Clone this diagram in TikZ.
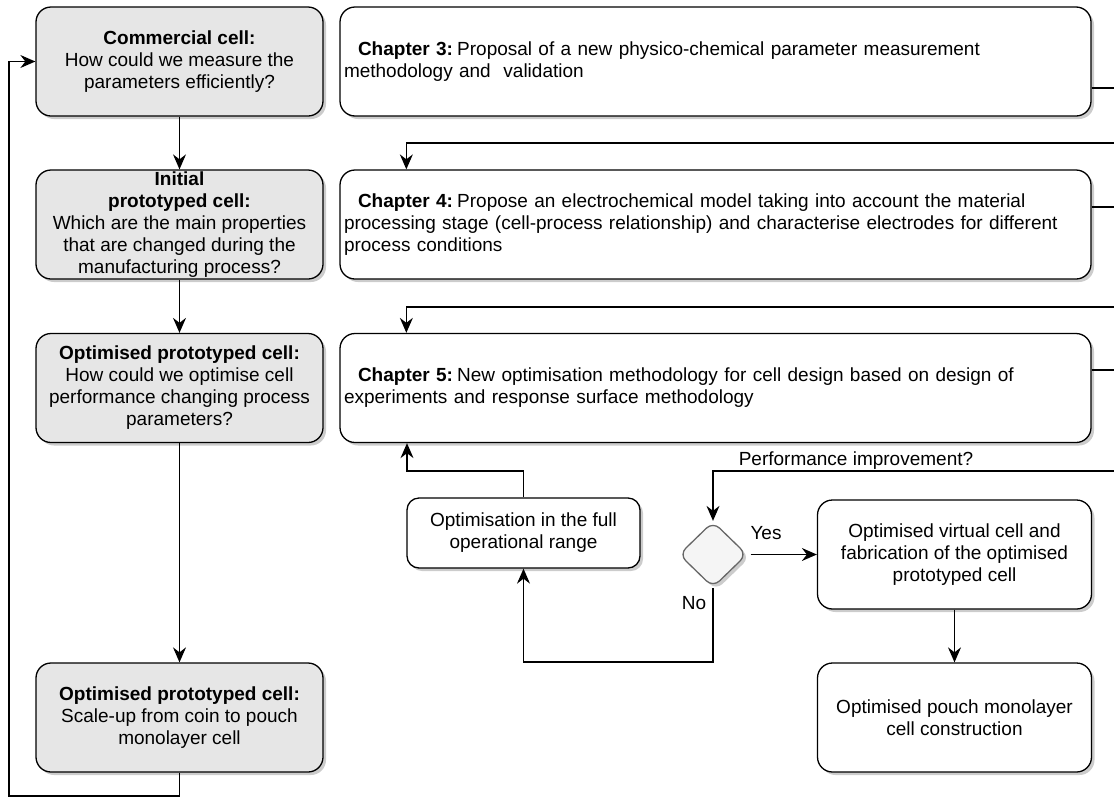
\documentclass[tikz,border=0pt]{standalone}
\usepackage{fontspec}
\setmainfont{Liberation Sans}
\usetikzlibrary{shapes.geometric,shadows,arrows.meta}
\definecolor{boxgray}{HTML}{E6E6E6}
\definecolor{decfill}{HTML}{F5F5F5}
\definecolor{decline}{HTML}{666666}
\begin{document}
\begin{tikzpicture}[x=1pt,y=-1pt,
  every node/.style={font=\fontsize{19}{22}\selectfont},
  wire/.style={line width=1.3pt,draw=black},
  arr/.style={wire,-{Stealth[length=15pt,width=13pt,inset=5pt]}},
  boxshadow/.style={drop shadow={shadow xshift=3pt,shadow yshift=-3pt,fill=black,opacity=0.2}},
  qbox/.style={draw,line width=1.3pt,rounded corners=15pt,fill=boxgray,
    minimum width=287pt,minimum height=109pt,align=center,inner sep=1pt,boxshadow},
  chbox/.style={draw,line width=1.3pt,rounded corners=15pt,fill=white,
    minimum width=751pt,minimum height=109pt,text width=743pt,inner xsep=4pt,
    align=left,boxshadow},
  rbox/.style={draw,line width=1.3pt,rounded corners=15pt,fill=white,
    minimum width=274pt,minimum height=109pt,align=center,boxshadow},
  sbox/.style={draw,line width=1.3pt,rounded corners=12pt,fill=white,
    minimum width=233pt,minimum height=70pt,align=center,boxshadow},
  decision/.style={draw=decline,line width=1.3pt,fill=decfill,diamond,aspect=1,
    rounded corners=9pt,minimum width=68pt,minimum height=66pt,inner sep=0pt,boxshadow},
  tag/.style={inner sep=0pt}
]
\useasboundingbox (0,0) rectangle (1114,801);

% left column: questions per cell type
\node[qbox] (q1) at (179.5,61.5) {\textbf{Commercial cell:}\\How could we measure the\\parameters efficiently?};
\node[qbox] (q2) at (179.5,224.5) {\textbf{Initial}\\\textbf{prototyped cell:}\\Which are the main properties\\that are changed during the\\manufacturing process?};
\node[qbox] (q3) at (179.5,388) {\textbf{Optimised prototyped cell:}\\How could we optimise cell\\performance changing process\\parameters?};
\node[qbox] (q4) at (179.5,717.5) {\textbf{Optimised prototyped cell:}\\Scale-up from coin to pouch\\monolayer cell};

% right column: chapters
\node[chbox] (c3) at (715.5,61.5) {\hspace*{14pt}\textbf{Chapter 3:}\hspace{0.22em}Proposal of a new physico-chemical parameter measurement\\methodology and\ \ validation};
\node[chbox] (c4) at (715.5,224.5) {\hspace*{14pt}\textbf{Chapter 4:}\hspace{0.22em}Propose an electrochemical model taking into account the material\\processing stage (cell-process relationship) and characterise electrodes for different\\process conditions};
\node[chbox] (c5) at (715.5,388) {\hspace*{14pt}\textbf{Chapter 5:}\hspace{0.22em}New optimisation methodology for cell design based on design of\\experiments and response surface methodology};

% optimisation loop
\node[sbox] (opt) at (523.5,533) {Optimisation in the full\\operational range};
\node[decision] (dec) at (713,554.5) {};
\node[rbox] (virt) at (954.5,554.5) {Optimised virtual cell and\\fabrication of the optimised\\prototyped cell};
\node[rbox] (pouch) at (954.5,717.5) {Optimised pouch monolayer\\cell construction};

\node[tag] (perf) at (856,461) {Performance improvement?};
\node[tag] (yes) at (766,533) {Yes};
\node[tag] (no) at (694,603) {No};

% left column flow
\draw[arr] (q1.south) -- (q2.north);
\draw[arr] (q2.south) -- (q3.north);
\draw[arr] (q3.south) -- (q4.north);
\coordinate (fb) at (9,796);
\draw[arr] (q4.south) |- (fb) |- (q1.west);

% links between chapters (running past the right edge)
\coordinate (e3) at (1114,88);
\coordinate (n4) at (1114,143);
\coordinate (e4) at (1114,207);
\coordinate (n5) at (1114,307);
\coordinate (e5) at (1114,370);
\coordinate (n6) at (1114,471);
\draw[wire] (c3.east |- e3) -- (e3);
\draw[arr] (n4) -| ([xshift=67pt]c4.north west);
\draw[wire] (c4.east |- e4) -- (e4);
\draw[arr] (n5) -| ([xshift=67pt]c5.north west);
\draw[wire] (c5.east |- e5) -- (e5);
\draw[arr] (n6) -| (dec.north);

% decision branches
\draw[arr,shorten <=3pt] (dec.east) -- (virt.west);
\coordinate (nb) at (713,662);
\draw[arr] (dec.south) -- (nb) -| (opt.south);
\coordinate (k5) at (407,471);
\draw[arr] (opt.north) |- (k5) -- (k5 |- c5.south);
\draw[arr] (virt.south) -- (pouch.north);
\end{tikzpicture}
\end{document}
